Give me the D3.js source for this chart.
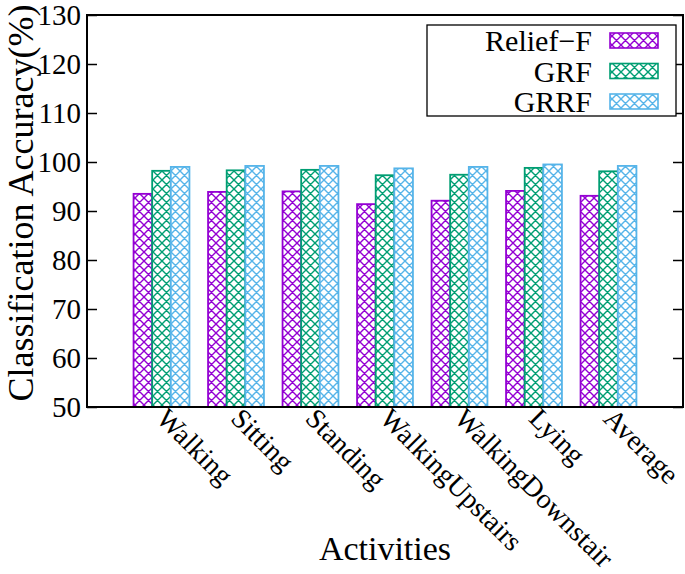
<!DOCTYPE html>
<html>
<head>
<meta charset="utf-8">
<script src="https://cdn.jsdelivr.net/npm/d3@7"></script>
<style>
  html, body { margin: 0; padding: 0; background: #fff; }
  text { font-family: "Liberation Serif", "DejaVu Serif", serif; fill: #000; }
</style>
</head>
<body>
<svg id="chart" width="685" height="574"></svg>
<script>
const categories = ["Walking", "Sitting", "Standing", "WalkingUpstairs", "WalkingDownstair", "Lying", "Average"];
const seriesNames = ["Relief\u2212F", "GRF", "GRRF"];
const reliefF = [93.5, 93.9, 94.0, 91.4, 92.1, 94.1, 93.1];
const grf = [98.2, 98.3, 98.4, 97.3, 97.4, 98.8, 98.1];
const grrf = [99.0, 99.2, 99.2, 98.7, 99.0, 99.5, 99.2];
const yTicks = [50, 60, 70, 80, 90, 100, 110, 120, 130];
const colors = ["#9400d3", "#009e73", "#56b4e9"];

const seriesValues = [reliefF, grf, grrf];

const svg = d3.select("#chart");
const L = 87, R = 683, T = 15, B = 407;

const x = d3.scaleLinear().domain([-1, 7]).range([L, R]);
const y = d3.scaleLinear().domain([50, 130]).range([B, T]);

// patterns
const defs = svg.append("defs");
colors.forEach((c, i) => {
  const p = defs.append("pattern")
    .attr("id", "hatch" + i)
    .attr("patternUnits", "userSpaceOnUse")
    .attr("width", 9).attr("height", 9);
  p.append("rect").attr("width", 9).attr("height", 9).attr("fill", "#fff");
  p.append("path")
    .attr("d", "M0,0L9,9M9,0L0,9M-1,8L1,10M8,-1L10,1M-1,1L1,-1M8,10L10,8")
    .attr("stroke", c).attr("stroke-width", 1.4).attr("fill", "none");
});

const boxW = 0.75;
const barW = boxW / 3;

// bars
seriesValues.forEach((vals, s) => {
  svg.append("g").selectAll("rect")
    .data(vals)
    .join("rect")
    .attr("x", (d, i) => x(i - boxW / 2 + s * barW))
    .attr("width", x(barW) - x(0))
    .attr("y", d => y(d))
    .attr("height", d => y(50) - y(d))
    .attr("fill", `url(#hatch${s})`)
    .attr("stroke", colors[s])
    .attr("stroke-width", 1.8);
});

// left axis
const yAxisL = d3.axisLeft(y).tickValues(yTicks).tickSize(-10).tickFormat(d3.format("d"));
const gL = svg.append("g").attr("transform", `translate(${L},0)`).call(yAxisL);
gL.select(".domain").remove();
gL.selectAll(".tick line").attr("stroke", "#000").attr("stroke-width", 1.5);
gL.selectAll(".tick text").attr("font-size", 29).attr("font-family", "Liberation Serif").attr("dy", "0.34em").attr("x", -6);

// right mirror ticks
const yAxisR = d3.axisRight(y).tickValues(yTicks).tickSize(-10).tickFormat("");
const gR = svg.append("g").attr("transform", `translate(${R},0)`).call(yAxisR);
gR.select(".domain").remove();
gR.selectAll(".tick line").attr("stroke", "#000").attr("stroke-width", 1.5);

// frame
svg.append("rect").attr("x", L).attr("y", T).attr("width", R - L).attr("height", B - T)
  .attr("fill", "none").attr("stroke", "#000").attr("stroke-width", 2);

// x tick labels
const xAxis = d3.axisBottom(x).tickValues(d3.range(categories.length)).tickSize(0).tickFormat(i => categories[i]);
const gX = svg.append("g").attr("transform", `translate(0,${B})`).call(xAxis);
gX.select(".domain").remove();
gX.selectAll(".tick text")
  .attr("font-size", 28)
  .attr("font-family", "Liberation Serif")
  .attr("text-anchor", "start")
  .attr("y", 0).attr("dy", 0)
  .attr("transform", "translate(-7,13) rotate(45)");

// axis titles
svg.append("text")
  .attr("transform", `translate(33,${(T + B) / 2 - 8}) rotate(-90)`)
  .attr("text-anchor", "middle")
  .attr("font-size", 36)
  .text("Classification Accuracy(%)");

svg.append("text")
  .attr("x", 385).attr("y", 560)
  .attr("text-anchor", "middle")
  .attr("font-size", 34)
  .text("Activities");

// legend
const lg = svg.append("g");
lg.append("rect").attr("x", 427).attr("y", 25).attr("width", 249).attr("height", 91)
  .attr("fill", "#fff").attr("stroke", "#000").attr("stroke-width", 1.3);
seriesNames.forEach((n, s) => {
  const cy = 40.5 + s * 30.5;
  lg.append("rect").attr("x", 610).attr("y", cy - 7.5).attr("width", 48).attr("height", 15)
    .attr("fill", `url(#hatch${s})`).attr("stroke", colors[s]).attr("stroke-width", 1.6);
  lg.append("text").attr("x", 592).attr("y", cy).attr("dy", "0.35em")
    .attr("text-anchor", "end").attr("font-size", 30).text(n);
});
</script>
</body>
</html>
